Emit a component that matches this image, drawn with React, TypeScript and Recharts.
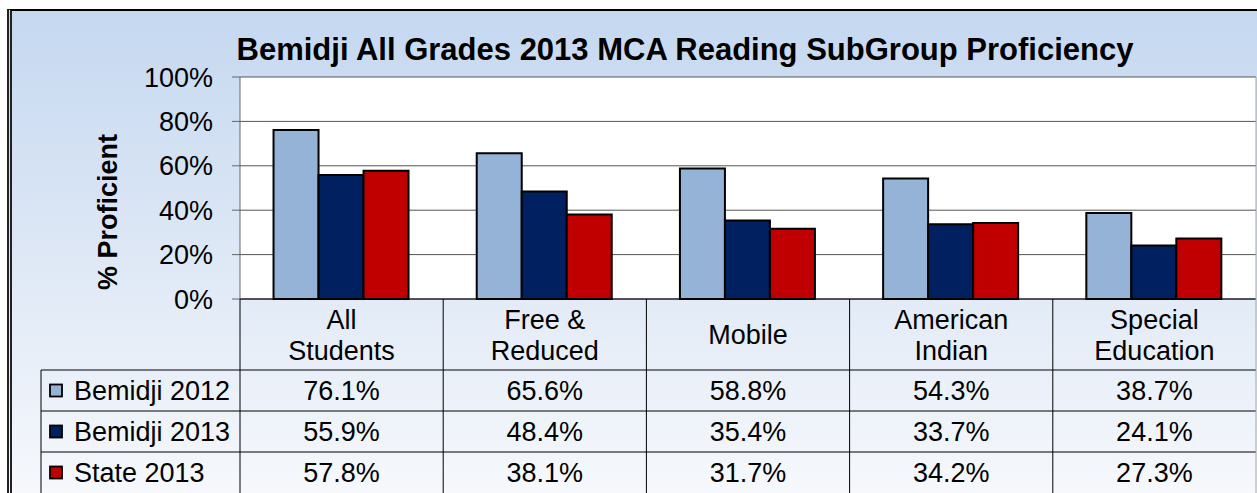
import { BarChart, Bar, XAxis, YAxis, CartesianGrid, Customized } from 'recharts'

const categories = ['All\nStudents', 'Free &\nReduced', 'Mobile', 'American\nIndian', 'Special\nEducation']
const bemidji2012 = [76.1, 65.6, 58.8, 54.3, 38.7]
const bemidji2013 = [55.9, 48.4, 35.4, 33.7, 24.1]
const state2013 = [57.8, 38.1, 31.7, 34.2, 27.3]
const yTicks = [0, 20, 40, 60, 80, 100]

const series = [
  { key: 'b2012', name: 'Bemidji 2012', values: bemidji2012, color: '#95b3d7' },
  { key: 'b2013', name: 'Bemidji 2013', values: bemidji2013, color: '#002060' },
  { key: 's2013', name: 'State 2013', values: state2013, color: '#c00000' },
]

const data = categories.map((name, i) => ({
  name,
  b2012: bemidji2012[i],
  b2013: bemidji2013[i],
  s2013: state2013[i],
}))

// layout (page px)
const W = 1257
const H = 493
const PLOT_L = 240
const PLOT_R = 1256
const PLOT_T = 77
const PLOT_B = 299
const HEAD_B = 370
const ROW_H = 41
const TABLE_L = 41
const FONT = 27

function Title() {
  return (
    <g>
      <text x={685} y={60} textAnchor="middle" fontSize={31} fontWeight="bold" fill="#000">
        Bemidji All Grades 2013 MCA Reading SubGroup Proficiency
      </text>
      <text x={117} y={212} textAnchor="middle" fontSize={FONT} fontWeight="bold" fill="#000"
        transform="rotate(-90 117 212)">
        % Proficient
      </text>
    </g>
  )
}

// draws the category header plus the data table column under it
function TableTick(props: any) {
  const { x, payload, index } = props
  const band = (PLOT_R - PLOT_L) / categories.length
  const right = x + band / 2
  const lines = String(payload.value).split('\n')
  const headMid = (PLOT_B + HEAD_B) / 2
  const last = index === categories.length - 1
  return (
    <g>
      {index === 0 && (
        <g>
          <line x1={PLOT_L} x2={PLOT_L} y1={PLOT_B} y2={H} stroke="#000" />
          <line x1={TABLE_L} x2={TABLE_L} y1={HEAD_B} y2={H} stroke="#000" />
          {series.map((s, r) => (
            <g key={s.key}>
              <line x1={TABLE_L} x2={PLOT_R} y1={HEAD_B + r * ROW_H} y2={HEAD_B + r * ROW_H} stroke="#000" />
              <rect x={50} y={HEAD_B + r * ROW_H + ROW_H / 2 - 6} width={12} height={12}
                fill={s.color} stroke="#000" strokeWidth={1.8} />
              <text x={74} y={HEAD_B + r * ROW_H + ROW_H / 2} dy="0.355em" fontSize={FONT} fill="#000">
                {s.name}
              </text>
            </g>
          ))}
        </g>
      )}
      <line x1={right} x2={right} y1={last ? PLOT_T : PLOT_B} y2={H} stroke={last ? '#a6a6a6' : '#000'} />
      {lines.map((t, i) => (
        <text key={i} x={x} y={headMid + (i - (lines.length - 1) / 2) * 31} dy="0.355em"
          textAnchor="middle" fontSize={FONT} fill="#000">
          {t}
        </text>
      ))}
      {series.map((s, r) => (
        <text key={s.key} x={x} y={HEAD_B + ROW_H * (r + 0.5)} dy="0.355em"
          textAnchor="middle" fontSize={FONT} fill="#000">
          {s.values[index].toFixed(1)}%
        </text>
      ))}
    </g>
  )
}

export default function App() {
  return (
    <div style={{ position: 'absolute', left: 0, top: 0, width: W, height: H, fontFamily: "'Liberation Sans', Arial, sans-serif", background: '#fff' }}>
      <div style={{
        position: 'absolute', left: 7, top: 9, width: W - 7, height: H - 9, boxSizing: 'border-box',
        borderTop: '2px solid #000', borderLeft: '5px double #222',
        background: 'linear-gradient(to bottom, #c5d8f0 0%, #dbe6f5 45%, #f6f8fc 100%)',
      }} />
      <div style={{ position: 'absolute', left: 0, top: 0 }}>
        <BarChart width={W} height={H} data={data} margin={{ top: PLOT_T, right: W - PLOT_R, left: 0, bottom: 0 }}
          barCategoryGap="16.5%" barGap={0}>
          <CartesianGrid vertical={false} stroke="#555" fill="#fff" />
          <XAxis dataKey="name" height={H - PLOT_B} axisLine={{ stroke: '#000' }} tickLine={false}
            interval={0} tick={<TableTick />} />
          <YAxis width={PLOT_L} domain={[0, 100]} ticks={yTicks} interval={0}
            tickFormatter={(v: number) => `${v}%`} axisLine={{ stroke: '#666' }}
            tickLine={{ stroke: '#666' }} tickSize={8} tickMargin={19}
            tick={{ fontSize: FONT, fill: '#000' }} />
          {series.map(s => (
            <Bar key={s.key} dataKey={s.key} name={s.name} fill={s.color} stroke="#000" strokeWidth={2}
              isAnimationActive={false} />
          ))}
          <Customized component={Title} />
        </BarChart>
      </div>
    </div>
  )
}
